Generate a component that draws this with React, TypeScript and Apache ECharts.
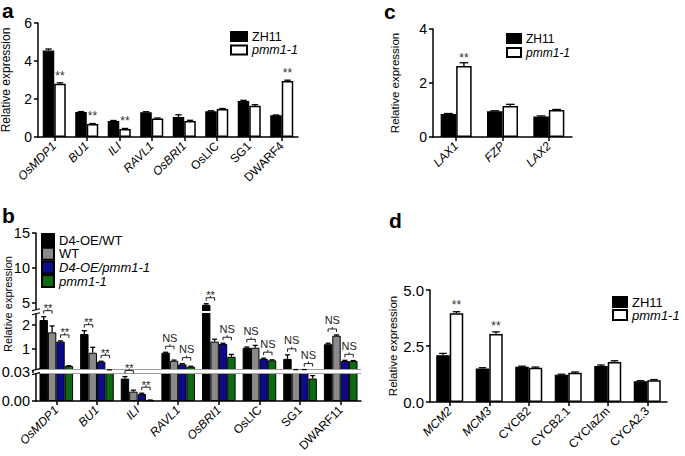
import React, { useEffect, useRef } from 'react';
import * as echarts from 'echarts';

const FONT = '"Liberation Sans", Arial, Helvetica, sans-serif';

// ---- Panel a ----
const genesA = ['OsMDP1', 'BU1', 'ILI', 'RAVL1', 'OsBRI1', 'OsLIC', 'SG1', 'DWARF4'];
const italicA = [true, true, true, true, true, false, false, false];
const zh11A = [4.55, 1.32, 0.84, 1.3, 1.05, 1.35, 1.9, 1.14];
const zh11AErr = [0.08, 0.02, 0.03, 0.03, 0.12, 0.03, 0.03, 0.02];
const pmmA = [2.8, 0.68, 0.42, 0.98, 0.84, 1.47, 1.65, 2.95];
const pmmAErr = [0.05, 0.03, 0.03, 0.02, 0.04, 0.03, 0.05, 0.04];
const sigA = ['**', '**', '**', '', '', '', '', '**'];

// ---- Panel b ----
const genesB = ['OsMDP1', 'BU1', 'ILI', 'RAVL1', 'OsBRI1', 'OsLIC', 'SG1', 'DWARF11'];
const italicB = [true, true, true, true, true, false, false, false];
const d4wt = [2.21, 1.62, 0.023, 0.83, 4.7, 1.04, 0.57, 1.19];
const d4wtErr = [0.14, 0.14, 0.002, 0.02, 0.15, 0.03, 0.17, 0.04];
const wt = [1.69, 0.83, 0.0096, 0.49, 1.3, 1.04, 0.1, 1.55];
const wtErr = [0.27, 0.23, 0.0015, 0.03, 0.1, 0.1, 0.02, 0.03];
const d4pmm = [1.3, 0.45, 0.0072, 0.34, 1.2, 0.57, 0.1, 0.48];
const d4pmmErr = [0.03, 0.02, 0.0008, 0.03, 0.03, 0.03, 0.02, 0.03];
const pmmB = [0.27, 0.1, 0.0008, 0.24, 0.66, 0.51, 0.023, 0.48];
const pmmBErr = [0.01, 0.01, 0.0002, 0.02, 0.1, 0.02, 0.003, 0.02];
const sigB1 = ['**', '**', '**', 'NS', '**', 'NS', 'NS', 'NS'];
const sigB2 = ['**', '**', '**', 'NS', 'NS', 'NS', 'NS', 'NS'];
const ticksB = [0, 0.03, 1, 2, 5, 10, 15];
const tickLabelsB = ['0.00', '0.03', '1', '2', '5', '10', '15'];

// ---- Panel c ----
const genesC = ['LAX1', 'FZP', 'LAX2'];
const zh11C = [0.85, 0.95, 0.76];
const zh11CErr = [0.02, 0.02, 0.02];
const pmmC = [2.63, 1.15, 1.0];
const pmmCErr = [0.12, 0.06, 0.02];
const sigC = ['**', '', ''];

// ---- Panel d ----
const genesD = ['MCM2', 'MCM3', 'CYCB2', 'CYCB2.1', 'CYCIaZm', 'CYCA2.3'];
const italicD = [true, true, false, false, false, false];
const zh11D = [2.09, 1.5, 1.57, 1.22, 1.61, 0.93];
const zh11DErr = [0.08, 0.03, 0.03, 0.02, 0.04, 0.02];
const pmmD = [3.96, 3.04, 1.53, 1.31, 1.79, 0.97];
const pmmDErr = [0.07, 0.09, 0.03, 0.03, 0.05, 0.03];
const sigD = ['**', '**', '', '', '', ''];

// piecewise (broken) scale for panel b
const SEG1 = 29.3; // height of 0..0.03 segment
const MID_MAX = 2.56;
const TOP_MIN = 3.7;
function T(v: number): number {
  if (v <= 0.03) return (v / 0.03) * SEG1;
  if (v <= MID_MAX) return SEG1 + (v - 0.03) * 23.7;
  const brk = SEG1 + (MID_MAX - 0.03) * 23.7;
  if (v <= TOP_MIN) return brk;
  return brk + (v - TOP_MIN) * 6.95;
}

const strip = (n: string) => n.split('|')[1];
const AX = { color: '#000', width: 1.5 };

function errSeries(grid: number, vals: number[], errs: number[], k: number, n: number, bw: number, tf: (v: number) => number = (v) => v) {
  return {
    type: 'custom',
    xAxisIndex: grid,
    yAxisIndex: grid,
    z: 5,
    silent: true,
    data: vals.map((v, i) => [i, tf(v), tf(v + errs[i])]),
    encode: { x: 0, y: [1, 2] },
    renderItem: (params: any, api: any) => {
      const cat = api.value(0);
      const b = api.coord([cat, api.value(1)]);
      const t = api.coord([cat, api.value(2)]);
      const x = b[0] + (k - (n - 1) / 2) * bw;
      const cw = Math.max(2.5, bw * 0.28);
      return {
        type: 'group',
        children: [
          { type: 'line', shape: { x1: x, y1: b[1], x2: x, y2: t[1] }, style: { stroke: '#000', lineWidth: 1.3 } },
          { type: 'line', shape: { x1: x - cw, y1: t[1], x2: x + cw, y2: t[1] }, style: { stroke: '#000', lineWidth: 1.3 } },
        ],
      };
    },
  };
}

function barSeries(name: string, grid: number, vals: number[], bw: number, color: string, border: string, bwid: number, sig?: string[], z = 2) {
  return {
    name,
    type: 'bar',
    xAxisIndex: grid,
    yAxisIndex: grid,
    barWidth: bw,
    barGap: '0%',
    z,
    itemStyle: { color, borderColor: border, borderWidth: bwid },
    data: vals.map((v, i) =>
      sig && sig[i]
        ? {
            value: v,
            label: {
              show: true,
              position: 'top',
              distance: 2,
              formatter: sig[i],
              fontSize: 12,
              color: '#333',
              fontFamily: FONT,
            },
          }
        : v
    ),
  };
}

function catAxis(grid: number, genes: string[], italic: boolean[] | null, fontSize: number) {
  return {
    gridIndex: grid,
    type: 'category',
    data: genes.map((g, i) => ({ value: g, textStyle: { fontStyle: italic ? (italic[i] ? 'italic' : 'normal') : 'italic' } })),
    axisLine: { show: true, lineStyle: AX },
    axisTick: { show: true, alignWithLabel: true, length: 4, lineStyle: AX },
    axisLabel: { rotate: 45, interval: 0, fontSize, color: '#000', fontFamily: FONT, margin: 7 },
    splitLine: { show: false },
  };
}

function valAxis(grid: number, extra: any, nameGap: number, nameSize: number, labelSize: number, withName = true) {
  return {
    gridIndex: grid,
    type: 'value',
    axisLine: { show: true, lineStyle: AX },
    axisTick: { show: true, length: 4, lineStyle: AX },
    axisLabel: { fontSize: labelSize, color: '#000', fontFamily: FONT, margin: 6 },
    splitLine: { show: false },
    name: withName ? 'Relative expression' : '',
    nameLocation: 'middle',
    nameGap,
    nameTextStyle: { fontSize: nameSize, fontFamily: FONT, color: '#000' },
    ...extra,
  };
}

function buildOption() {
  const BWA = 11.5, BWB = 8.4, BWC = 15.5, BWD = 13.5;
  const bTopsPair = (p: number) =>
    genesB.map((_, i) => {
      const a = p === 0 ? [d4wt[i] + d4wtErr[i], wt[i] + wtErr[i]] : [d4pmm[i] + d4pmmErr[i], pmmB[i] + pmmBErr[i]];
      return Math.max(T(a[0]), T(a[1]));
    });
  const tops1 = bTopsPair(0);
  const tops2 = bTopsPair(1);
  const bracketData: number[][] = [];
  const bracketLabels: string[] = [];
  genesB.forEach((_, i) => {
    bracketData.push([i, 0, tops1[i]]);
    bracketLabels.push(sigB1[i]);
    bracketData.push([i, 1, tops2[i]]);
    bracketLabels.push(sigB2[i]);
  });
  const tickT = ticksB.map(T);
  const legendBase = {
    orient: 'vertical',
    icon: 'rect',
    selectedMode: false,
    padding: 0,
    formatter: strip,
    textStyle: { fontFamily: FONT, color: '#000', lineHeight: 12 },
  };
  const letter = (t: string, left: number, top: number) => ({
    type: 'text',
    left,
    top,
    style: { text: t, font: `bold 21px ${FONT}`, fill: '#000', lineHeight: 14 },
  });

  return {
    animation: false,
    backgroundColor: '#fff',
    textStyle: { fontFamily: FONT },
    grid: [
      { left: 38, top: 23, width: 260, height: 114, outerBoundsMode: 'none' },
      { left: 36, top: 233.2, width: 325, height: T(15), outerBoundsMode: 'none' },
      { left: 433, top: 29, width: 139, height: 108, outerBoundsMode: 'none' },
      { left: 430, top: 290, width: 237, height: 112, outerBoundsMode: 'none' },
    ],
    xAxis: [
      catAxis(0, genesA, italicA, 12),
      catAxis(1, genesB, italicB, 12),
      catAxis(2, genesC, null, 12),
      catAxis(3, genesD, italicD, 12),
    ],
    yAxis: [
      valAxis(0, { min: 0, max: 6, interval: 2 }, 26, 12, 14),
      valAxis(
        1,
        {
          min: 0,
          max: T(15),
          axisLabel: {
            fontSize: 14.5,
            color: '#000',
            fontFamily: FONT,
            margin: 6,
            customValues: tickT,
            formatter: (v: number) => {
              const idx = tickT.findIndex((t) => Math.abs(t - v) < 0.01);
              return idx >= 0 ? tickLabelsB[idx] : '';
            },
          },
          axisTick: { show: true, length: 4, lineStyle: AX, customValues: tickT },
        },
        20,
        11,
        14.5,
        false
      ),
      valAxis(2, { min: 0, max: 4, interval: 2 }, 32, 11.5, 14),
      valAxis(3, { min: 0, max: 5, interval: 2.5, axisLabel: { fontSize: 15, color: '#000', fontFamily: FONT, margin: 6, formatter: (v: number) => v.toFixed(1) } }, 29, 11.5, 15),
    ],
    legend: [
      {
        ...legendBase,
        left: 230,
        top: 30,
        itemWidth: 16,
        itemHeight: 9,
        itemGap: 0.5,
        textStyle: { ...legendBase.textStyle, fontSize: 12.5 },
        data: [{ name: 'a|ZH11' }, { name: 'a|pmm1-1', textStyle: { fontStyle: 'italic' } }],
      },
      {
        ...legendBase,
        left: 41,
        top: 233,
        itemWidth: 12,
        itemHeight: 12,
        itemGap: -0.3,
        textStyle: { ...legendBase.textStyle, fontSize: 13 },
        data: [
          { name: 'b|D4-OE/WT' },
          { name: 'b|WT' },
          { name: 'b|D4-OE/pmm1-1', textStyle: { fontStyle: 'italic' } },
          { name: 'b|pmm1-1', textStyle: { fontStyle: 'italic' } },
        ],
      },
      {
        ...legendBase,
        left: 506,
        top: 32.5,
        itemWidth: 14,
        itemHeight: 9,
        itemGap: 2,
        textStyle: { ...legendBase.textStyle, fontSize: 12 },
        data: [{ name: 'c|ZH11' }, { name: 'c|pmm1-1', textStyle: { fontStyle: 'italic' } }],
      },
      {
        ...legendBase,
        left: 612,
        top: 295.5,
        itemWidth: 14,
        itemHeight: 10,
        itemGap: 0,
        textStyle: { ...legendBase.textStyle, fontSize: 13 },
        data: [{ name: 'd|ZH11' }, { name: 'd|pmm1-1', textStyle: { fontStyle: 'italic' } }],
      },
    ],
    graphic: [
      letter('a', 2, 0),
      letter('b', 2, 205),
      letter('c', 384, 1),
      letter('d', 389, 210),
      {
        type: 'text',
        x: 8,
        y: 304,
        rotation: Math.PI / 2,
        style: { text: 'Relative expression', fontSize: 11, fontFamily: FONT, fill: '#000', align: 'center', verticalAlign: 'middle' },
      },
    ],
    series: [
      // a
      barSeries('a|ZH11', 0, zh11A, BWA, '#000', '#000', 1.2),
      barSeries('a|pmm1-1', 0, pmmA, BWA, '#fff', '#000', 1.5, sigA),
      errSeries(0, zh11A, zh11AErr, 0, 2, BWA),
      errSeries(0, pmmA, pmmAErr, 1, 2, BWA),
      // b
      barSeries('b|D4-OE/WT', 1, d4wt.map(T), BWB, '#000', '#000', 1),
      barSeries('b|WT', 1, wt.map(T), BWB, '#8a8a8a', '#000', 1),
      barSeries('b|D4-OE/pmm1-1', 1, d4pmm.map(T), BWB, '#0b0b8c', '#000', 1),
      {
        ...barSeries('b|pmm1-1', 1, pmmB.map(T), BWB, '#0c6a12', '#000', 1, undefined, 3),
        markLine: {
          silent: true,
          symbol: ['none', 'none'],
          label: { show: false },
          data: [
            { yAxis: T(0.03), lineStyle: { color: '#a0a0a0', width: 5, type: 'solid' } },
            { yAxis: T(0.03), lineStyle: { color: '#fff', width: 3, type: 'solid' } },
            { yAxis: T(TOP_MIN), lineStyle: { color: '#fff', width: 2, type: 'solid' } },
          ],
        },
      },
      errSeries(1, d4wt, d4wtErr, 0, 4, BWB, T),
      errSeries(1, wt, wtErr, 1, 4, BWB, T),
      errSeries(1, d4pmm, d4pmmErr, 2, 4, BWB, T),
      errSeries(1, pmmB, pmmBErr, 3, 4, BWB, T),
      {
        type: 'custom',
        xAxisIndex: 1,
        yAxisIndex: 1,
        z: 6,
        silent: true,
        data: bracketData,
        encode: { x: 0, y: 2 },
        renderItem: (params: any, api: any) => {
          const cat = api.value(0);
          const pair = api.value(1);
          const c = api.coord([cat, api.value(2)]);
          const x0 = c[0] + (2 * pair - 1.5) * BWB;
          const x1 = c[0] + (2 * pair - 0.5) * BWB;
          const xm = (x0 + x1) / 2;
          const y = c[1] - 6;
          const lab = bracketLabels[params.dataIndex];
          const ty = lab === '**' ? y + 3 : y - 3;
          return {
            type: 'group',
            children: [
              { type: 'polyline', shape: { points: [[x0, y + 3], [x0, y], [x1, y], [x1, y + 3]] }, style: { stroke: '#222', fill: 'none', lineWidth: 1 } },
              { type: 'line', shape: { x1: xm, y1: y, x2: xm, y2: y - 2 }, style: { stroke: '#222', lineWidth: 1 } },
              {
                type: 'text',
                x: xm,
                y: ty,
                style: { text: lab, fill: '#222', fontSize: 11, fontFamily: FONT, align: 'center', verticalAlign: 'bottom' },
              },
            ],
          };
        },
      },
      {
        type: 'custom',
        xAxisIndex: 1,
        yAxisIndex: 1,
        z: 7,
        silent: true,
        data: [[0, T(0.03)], [0, T(TOP_MIN)]],
        encode: { x: 0, y: 1 },
        renderItem: (params: any, api: any) => {
          const c = api.coord([0, api.value(1)]);
          const x = c[0] - api.size([1, 0])[0] / 2;
          const y = c[1];
          return {
            type: 'group',
            children: [
              { type: 'rect', shape: { x: x - 2, y: y - 2, width: 4, height: 4 }, style: { fill: '#fff' } },
              { type: 'line', shape: { x1: x - 4, y1: y - 1, x2: x + 4, y2: y - 3 }, style: { stroke: '#000', lineWidth: 1.2 } },
              { type: 'line', shape: { x1: x - 4, y1: y + 3, x2: x + 4, y2: y + 1 }, style: { stroke: '#000', lineWidth: 1.2 } },
            ],
          };
        },
      },
      // c
      barSeries('c|ZH11', 2, zh11C, BWC, '#000', '#000', 1.2),
      barSeries('c|pmm1-1', 2, pmmC, BWC, '#fff', '#000', 1.5, sigC),
      errSeries(2, zh11C, zh11CErr, 0, 2, BWC),
      errSeries(2, pmmC, pmmCErr, 1, 2, BWC),
      // d
      barSeries('d|ZH11', 3, zh11D, BWD, '#000', '#000', 1.2),
      barSeries('d|pmm1-1', 3, pmmD, BWD, '#fff', '#000', 1.5, sigD),
      errSeries(3, zh11D, zh11DErr, 0, 2, BWD),
      errSeries(3, pmmD, pmmDErr, 1, 2, BWD),
    ],
  };
}

export default function App() {
  const ref = useRef<HTMLDivElement>(null);
  useEffect(() => {
    const chart = echarts.init(ref.current!, null, { renderer: 'svg' });
    chart.setOption(buildOption() as any);
    return () => chart.dispose();
  }, []);
  return (
    <div
      ref={ref}
      style={{ position: 'fixed', left: 0, top: 0, width: 685, height: 456, background: '#fff' }}
    />
  );
}
